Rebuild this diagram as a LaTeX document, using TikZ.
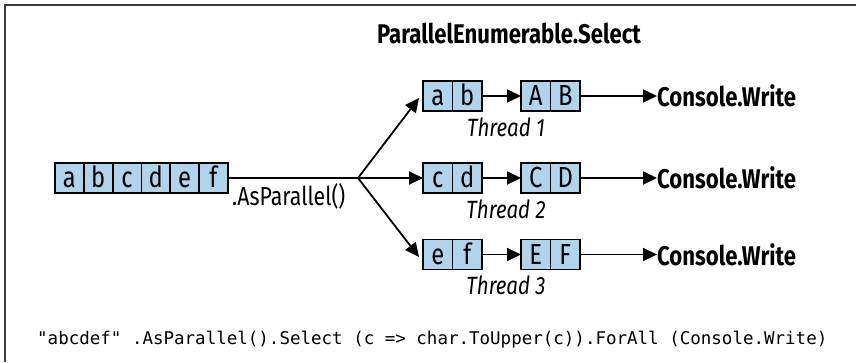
\documentclass[tikz,border=0pt]{standalone}
\usepackage{fontspec}
\setmainfont{Fira Sans}[FakeStretch=0.82]
\setmonofont{DejaVu Sans Mono}
\usetikzlibrary{arrows.meta, positioning}
\definecolor{cellblue}{RGB}{176,212,236}
\definecolor{framegray}{RGB}{60,60,60}

\begin{document}
\begin{tikzpicture}[
    x=1pt, y=-1pt,
    cell/.style={draw, line width=1.8pt, fill=cellblue, minimum width=29.5pt, minimum height=30pt, inner sep=0pt, outer sep=0pt, text height=20pt, text depth=1pt, font=\fontsize{29}{29}\selectfont},
    arrow/.style={-{Triangle[length=14pt, width=13pt]}, line width=1.8pt},
    thread/.style={font=\fontsize{25}{25}\selectfont\itshape, inner sep=0pt},
    sink/.style={font=\fontsize{27}{27}\selectfont\bfseries, anchor=west, inner sep=0pt}
]
\useasboundingbox (0,0) rectangle (856,362);
\draw[framegray, line width=1.5pt] (5,362) -- (5,5) -- (856,5);

\node[font=\fontsize{27}{27}\selectfont\bfseries] (title) at (509,33) {ParallelEnumerable.Select};

% input sequence
\foreach \ch [count=\i] in {a,b,c,d,e,f}
    \node[cell, minimum width=28.8pt] (in\i) at ({55+28.8*(\i-0.5)},178) {\ch};
\coordinate (split) at (358,178);
\draw[line width=1.8pt] (in6) -- (split);
\node[anchor=north west, inner sep=0pt, font=\fontsize{26}{26}\selectfont] (asp) at (232,183) {.AsParallel()};

% one row per thread
\foreach \row/\y/\la/\lb/\ua/\ub in {1/96/a/b/A/B, 2/178/c/d/C/D, 3/254.5/e/f/E/F} {
    \node[cell] (lo\row1) at (437.75,\y) {\la};
    \node[cell] (lo\row2) at (467.25,\y) {\lb};
    \node[cell] (up\row1) at (535.75,\y) {\ua};
    \node[cell] (up\row2) at (565.25,\y) {\ub};
    \node[sink] (sink\row) at (657,\y) {Console.Write};
    \node[thread] (thr\row) at (506,\y+31) {Thread \row};
    \draw[arrow] (lo\row2) -- (up\row1);
    \draw[arrow] (up\row2) -- (sink\row);
}

\draw[arrow] (split) -- ([xshift=-4pt, yshift=-2pt]lo11.west);
\draw[arrow] (split) -- (lo21);
\draw[arrow] (split) -- ([xshift=-4pt, yshift=-2.5pt]lo31.west);

\node[anchor=west, inner sep=0pt, font=\ttfamily\fontsize{17.5}{17.5}\selectfont] (code) at (37,340) {"abcdef" .AsParallel().Select (c => char.ToUpper(c)).ForAll (Console.Write)};
\end{tikzpicture}
\end{document}
